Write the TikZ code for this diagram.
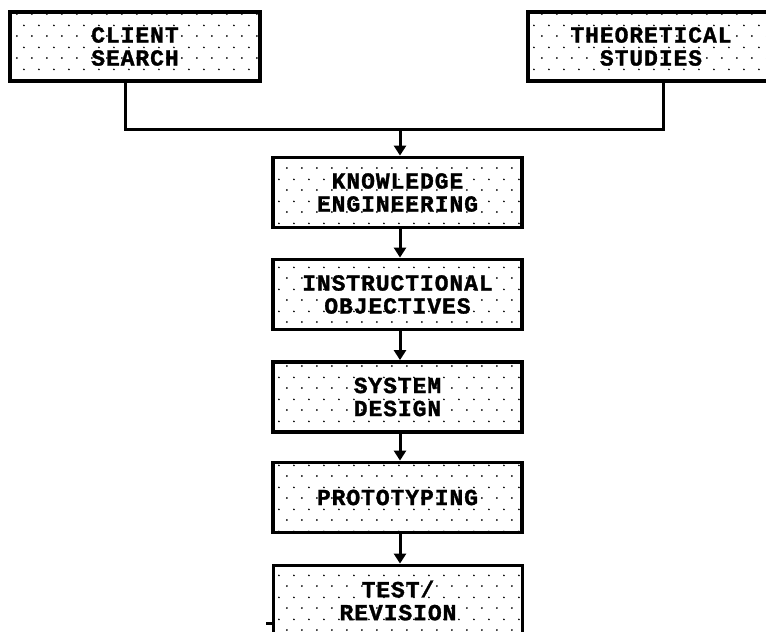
\documentclass[tikz,border=0pt]{standalone}
\usepackage{fontspec}
\newfontfamily\boxfont{Liberation Mono}[BoldFeatures={FakeBold=1.3,LetterSpace=4}]
\usetikzlibrary{arrows.meta,patterns}
\pgfdeclarepatternformonly{sparsedots}{\pgfpointorigin}{\pgfpoint{15pt}{22pt}}{\pgfpoint{15pt}{22pt}}{%
  \pgfpathcircle{\pgfpoint{2pt}{2pt}}{1pt}%
  \pgfpathcircle{\pgfpoint{9.5pt}{13pt}}{1pt}%
  \pgfusepath{fill}}
\tikzset{
  stepbox/.style={draw=black, line width=3.8pt, fill=white,
    postaction={pattern=sparsedots, pattern color=black},
    minimum width=249pt, minimum height=70pt, inner sep=0pt,
    align=center, font=\boxfont\bfseries\fontsize{23}{23}\selectfont},
  link/.style={line width=3pt},
  arr/.style={line width=3pt, -{Triangle[width=12pt,length=10pt]}}
}
\begin{document}
\begin{tikzpicture}[x=1pt,y=-1pt]
\useasboundingbox (0,0) rectangle (766,632);
\begin{scope}
\clip (0,0) rectangle (766,632);
\node[stepbox, minimum width=250pt, minimum height=69pt] (client) at (135,46.5) {CLIENT\\SEARCH};
\node[stepbox, minimum width=246pt, minimum height=69pt] (theory) at (651,46.5) {THEORETICAL\\STUDIES};
\node[stepbox] (ke) at (397.5,192.5) {KNOWLEDGE\\ENGINEERING};
\node[stepbox] (io) at (397.5,294.5) {INSTRUCTIONAL\\OBJECTIVES};
\node[stepbox] (sd) at (397.5,397) {SYSTEM\\DESIGN};
\node[stepbox] (proto) at (397.5,497.5) {PROTOTYPING};
\node[stepbox] (tr) at (398,600.5) {TEST/\\REVISION};
\coordinate (join) at (400,129);
\coordinate (cl) at (125,129);
\coordinate (th) at (663,129);
\coordinate (tick) at (266,623);
\draw[link] (client.south -| cl) -- (cl) -- (th) -- (theory.south -| th);
\draw[arr] (join) -- (ke.north -| join);
\draw[arr] (ke.south -| join) -- (io.north -| join);
\draw[arr] (io.south -| join) -- (sd.north -| join);
\draw[arr] (sd.south -| join) -- (proto.north -| join);
\draw[arr] (proto.south -| join) -- (tr.north -| join);
\draw[link] (tick) -- (tick -| tr.west);
\end{scope}
\end{tikzpicture}
\end{document}
